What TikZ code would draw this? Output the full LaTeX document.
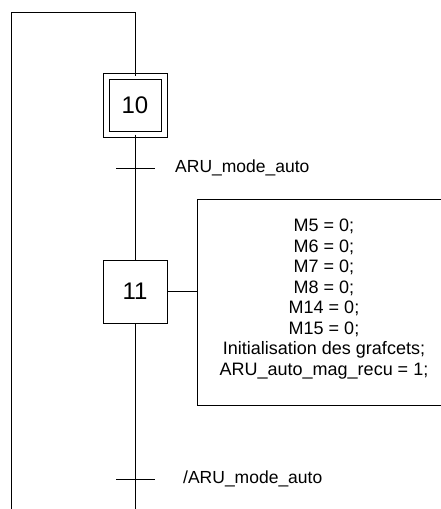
\documentclass[tikz,border=0pt]{standalone}
\usepackage{fontspec}
\setmainfont{Liberation Sans}
\begin{document}
\begin{tikzpicture}[x=1pt,y=-1pt,
  line/.style={draw=black,line width=1pt},
  stepbox/.style={draw=black,line width=1pt,minimum width=64pt,minimum height=63pt,inner sep=0pt,font=\fontsize{24}{28}\selectfont},
  initbox/.style={stepbox,double=white,double distance=5pt,minimum width=58pt,minimum height=58pt},
  trans/.style={line width=1pt},
  lbl/.style={anchor=west,inner sep=0pt,font=\fontsize{17.5}{20}\selectfont},
  actbox/.style={draw=black,line width=1pt,minimum width=254pt,minimum height=206pt,inner sep=0pt}]
\useasboundingbox (0,0) rectangle (440,509);
\node[initbox] (s10) at (135,105) {10};
\node[stepbox] (s11) at (135,291.5) {11};
\node[actbox] (a11) at (324,302) {};
\node[align=center,inner sep=0pt,font=\fontsize{18}{20.5}\selectfont] (a11t) at (324,299) {M5 = 0;\\M6 = 0;\\M7 = 0;\\M8 = 0;\\M14 = 0;\\M15 = 0;\\Initialisation des grafcets;\\ARU\_auto\_mag\_recu = 1;};
\coordinate (t1) at (135,168);
\coordinate (t2) at (135,479);
\coordinate (top) at (135,12);
\coordinate (tl) at (11,12);
\coordinate (bl) at (11,509);
\coordinate (bm) at (135,509);
\draw[line] (bl) -- (tl) -- (top) -- (s10.north);
\draw[line] (s10.south) -- (s11.north);
\draw[line] (s11.south) -- (bm);
\draw[line] (s11.east) -- (a11.west |- s11.east);
\draw[trans] ([xshift=-19pt]t1) -- ([xshift=20pt]t1);
\draw[trans] ([xshift=-19pt]t2) -- ([xshift=20pt]t2);
\node[lbl] (l1) at (175,168) {ARU\_mode\_auto};
\node[lbl] (l2) at (183,479) {/ARU\_mode\_auto};
\end{tikzpicture}
\end{document}
